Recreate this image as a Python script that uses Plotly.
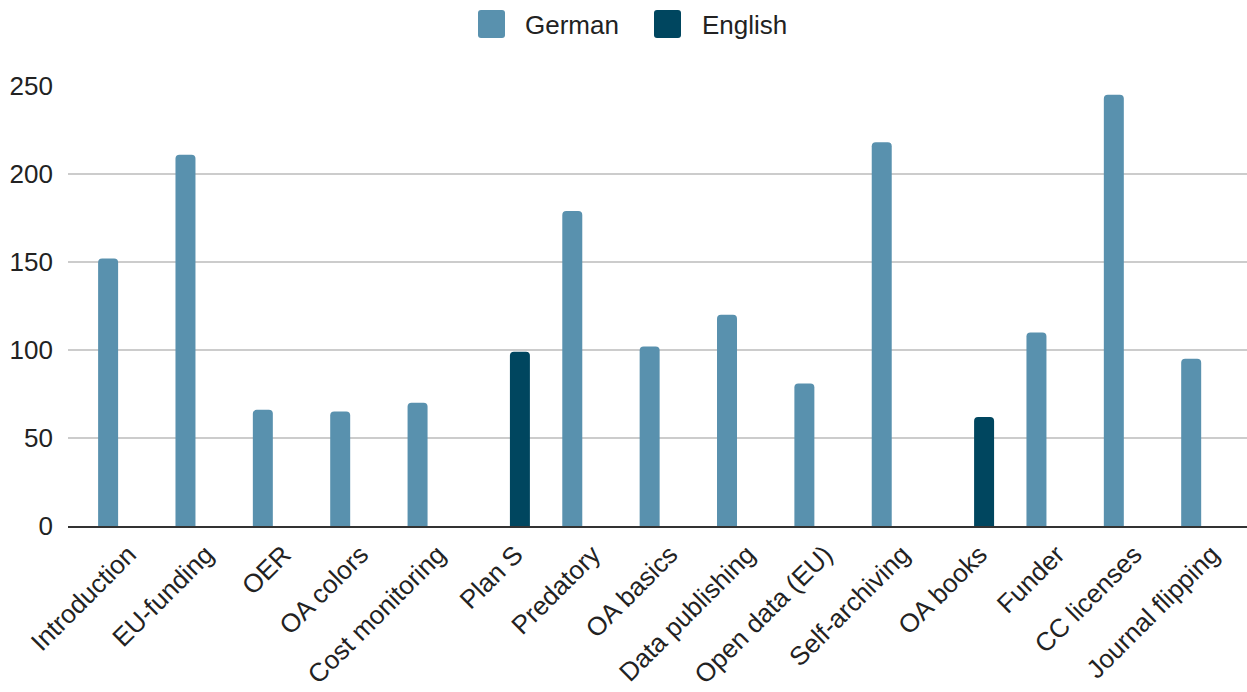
import plotly.graph_objects as go

categories = ["Introduction", "EU-funding", "OER", "OA colors", "Cost monitoring",
              "Plan S", "Predatory", "OA basics", "Data publishing", "Open data (EU)",
              "Self-archiving", "OA books", "Funder", "CC licenses", "Journal flipping"]
german = [152, 211, 66, 65, 70, None, 179, 102, 120, 81, 218, None, 110, 245, 95]
english = [None, None, None, None, None, 99, None, None, None, None, None, 62, None, None, None]
y_ticks = [0, 50, 100, 150, 200, 250]

FONT = "Liberation Sans, Arial, sans-serif"
C_GERMAN = "#5991ae"
C_ENGLISH = "#00465f"
TEXT = "#222222"

W, H = 1247, 692
ML, MR, MT, MB = 68, 0, 86, 166
PW, PH = W - ML - MR, H - MT - MB


def px_x(px):
    return (px - ML) / PW


def px_y(py):
    return (H - MB - py) / PH


def rounded_rect_path(x0, y0, x1, y1, r=3):
    # pixel coordinates -> paper coordinates, rounded corners
    rx, ry = r / PW, r / PH
    a, b = px_x(x0), px_x(x1)
    top, bot = px_y(y0), px_y(y1)
    return (f"M{a + rx},{bot} L{b - rx},{bot} Q{b},{bot} {b},{bot + ry} "
            f"L{b},{top - ry} Q{b},{top} {b - rx},{top} L{a + rx},{top} "
            f"Q{a},{top} {a},{top - ry} L{a},{bot + ry} Q{a},{bot} {a + rx},{bot} Z")


fig = go.Figure()
fig.add_trace(go.Bar(name="German", x=categories, y=german, showlegend=False,
                     marker=dict(color=C_GERMAN, cornerradius=4, line=dict(width=0))))
fig.add_trace(go.Bar(name="English", x=categories, y=english, showlegend=False,
                     marker=dict(color=C_ENGLISH, cornerradius=4, line=dict(width=0))))

legend_items = [("German", C_GERMAN, 478, 523), ("English", C_ENGLISH, 654, 700)]
shapes, annotations = [], []
for name, color, sx, tx in legend_items:
    shapes.append(dict(type="path", xref="paper", yref="paper",
                       path=rounded_rect_path(sx, 10, sx + 27, 38),
                       fillcolor=color, line=dict(width=0), layer="above"))
    annotations.append(dict(text=name, xref="paper", yref="paper", x=px_x(tx), y=px_y(25),
                            xanchor="left", yanchor="middle", showarrow=False,
                            font=dict(family=FONT, size=26, color=TEXT)))

fig.update_layout(
    width=W, height=H,
    margin=dict(l=ML, r=MR, t=MT, b=MB, autoexpand=False),
    paper_bgcolor="white", plot_bgcolor="white",
    barmode="group", bargap=0.354, bargroupgap=0.2,
    font=dict(family=FONT, size=26, color=TEXT),
    showlegend=False,
    shapes=shapes, annotations=annotations,
    xaxis=dict(type="category", range=[-0.68, 14.56], tickangle=-45, automargin=False,
               showgrid=False, showline=True, linecolor="#333333", linewidth=2,
               ticks="", ticklabelstandoff=1, ticklabelshift=8,
               tickfont=dict(size=26, color=TEXT)),
    yaxis=dict(range=[0, 250], tickvals=y_ticks, showgrid=True, gridcolor="#cccccc",
               gridwidth=2, zeroline=False, showline=False, ticks="", automargin=False,
               ticklabelstandoff=14, tickfont=dict(size=26, color=TEXT)),
)

fig.write_html("out.html", config={"displayModeBar": False},
               post_script="document.body.style.margin='0';")
